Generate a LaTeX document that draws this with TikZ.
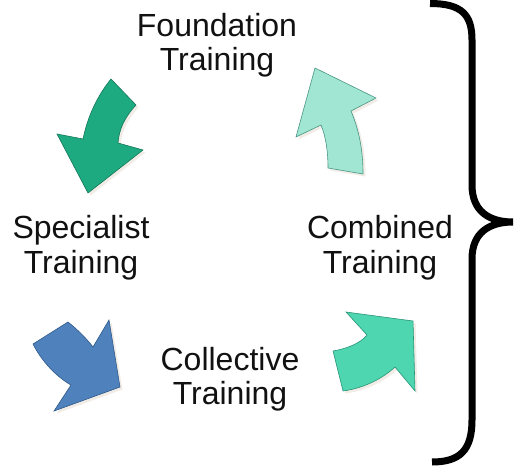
\documentclass[tikz,border=0pt]{standalone}
\usepackage{fontspec}
\setmainfont{Liberation Sans}
\usetikzlibrary{shadows}
\definecolor{cgreen}{HTML}{1EAA80}
\definecolor{cgreenD}{HTML}{13775A}
\definecolor{cpale}{HTML}{A0E6D2}
\definecolor{cpaleD}{HTML}{4A9484}
\definecolor{cblue}{HTML}{4F81BD}
\definecolor{cblueD}{HTML}{2E5A8A}
\definecolor{cteal}{HTML}{4DD6B0}
\definecolor{ctealD}{HTML}{2A9478}
\definecolor{cshadow}{HTML}{D8C8B8}
\definecolor{ctext}{HTML}{111111}
\tikzset{
  lbl/.style={font=\fontsize{32bp}{34bp}\selectfont, text=ctext, align=center, inner sep=0pt, anchor=base},
  cyclearrow/.style={line width=0.6bp, line join=miter,
     drop shadow={shadow xshift=2.5bp, shadow yshift=-2.5bp, opacity=0.35, fill=cshadow}},
  bracestroke/.style={line width=7bp, line cap=butt, draw=black}
}
\begin{document}
\begin{tikzpicture}[x=1bp,y=-1bp]
\useasboundingbox (0,0) rectangle (516,466);
% labels (base anchor = baseline of the last line)
\node[lbl] (found) at (217,71) {Foundation\\Training};
\node[lbl] (spec)  at (81,273) {Specialist\\Training};
\node[lbl] (comb)  at (380,273) {Combined\\Training};
\node[lbl] (coll)  at (230,404) {Collective\\Training};
% arrow: Foundation -> Specialist
\path[cyclearrow, fill=cgreen, draw=cgreenD]
  (111,79) -- (136,105) .. controls (124,118) and (119,130) .. (118,143)
  -- (143,150) -- (88,193) -- (57,134) -- (83,139)
  .. controls (88,115) and (98,95) .. (111,79) -- cycle;
% arrow: Specialist -> Collective
\path[cyclearrow, fill=cblue, draw=cblueD]
  (68,322) .. controls (78,330) and (86,338) .. (93,347)
  -- (109,320) -- (120,387) -- (54,411) -- (71,385)
  .. controls (57,377) and (42,362) .. (33,344) -- cycle;
% arrow: Collective -> Combined
\path[cyclearrow, fill=cteal, draw=ctealD]
  (333,351) .. controls (345,349) and (360,344) .. (367,335)
  -- (346,312) -- (413,321) -- (415,391) -- (395,367)
  .. controls (383,378) and (365,388) .. (343,391) -- cycle;
% arrow: Combined -> Foundation
\path[cyclearrow, fill=cpale, draw=cpaleD]
  (328,168) .. controls (328,152) and (326,137) .. (321,125)
  -- (296,137) -- (315,68) -- (376,98) -- (351,111)
  .. controls (359,130) and (363,150) .. (363,174) -- cycle;
% brace
\draw[bracestroke]
  (430,3.5) .. controls (462,3.5) and (472,15) .. (472,40) -- (472,185)
  .. controls (472,212) and (490,222) .. (513,222)
  .. controls (490,222) and (472,232) .. (472,259) -- (472,420)
  .. controls (472,450) and (460,462) .. (432,462);
\end{tikzpicture}
\end{document}
